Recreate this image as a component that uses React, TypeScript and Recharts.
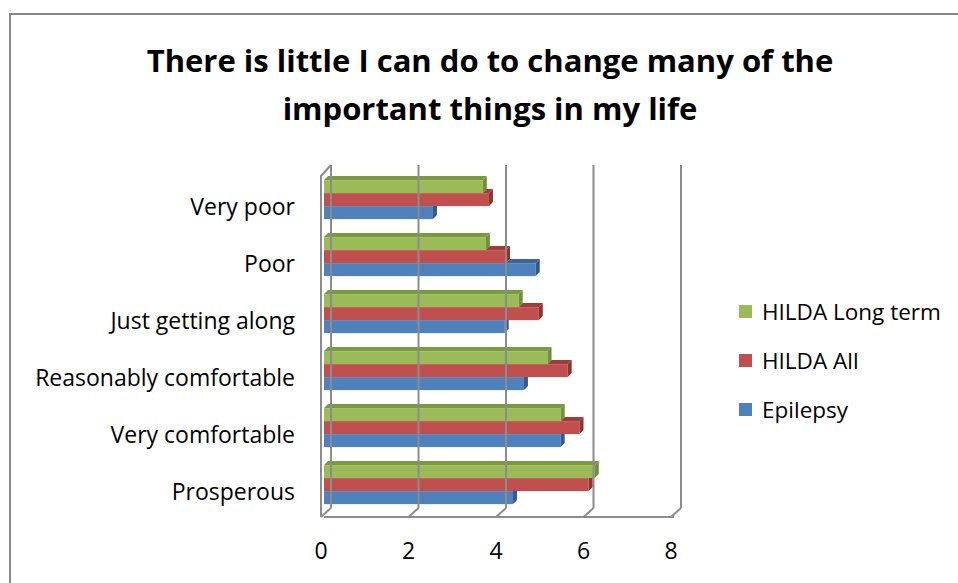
import React from 'react'
import { Bar, BarChart, Legend, XAxis, YAxis } from 'recharts'

// data
const categories = ['Very poor', 'Poor', 'Just getting along', 'Reasonably comfortable', 'Very comfortable', 'Prosperous']
const hildaLongTerm = [3.63, 3.7, 4.45, 5.11, 5.41, 6.19]
const hildaAll = [3.77, 4.16, 4.91, 5.57, 5.84, 6.05]
const epilepsy = [2.49, 4.84, 4.13, 4.57, 5.41, 4.32]
const xTicks = [0, 2, 4, 6, 8]

const data = categories.map((name, i) => ({
    name,
    longTerm: hildaLongTerm[i],
    all: hildaAll[i],
    epilepsy: epilepsy[i],
}))

interface Series {
    key: string
    name: string
    front: string
    top: string
    side: string
    above?: string
}

const SERIES: Series[] = [
    { key: 'longTerm', name: 'HILDA Long term', front: '#9BBB59', top: '#7A9A3E', side: '#71903A' },
    { key: 'all', name: 'HILDA All', front: '#C0504D', top: '#9E3D3A', side: '#8C3532', above: 'longTerm' },
    { key: 'epilepsy', name: 'Epilepsy', front: '#4F81BD', top: '#3C6697', side: '#345A88', above: 'all' },
]

const FONT = '"Open Sans", sans-serif'
const PLOT_TOP = 165
const DEPTH = 4
const WALL = 10
const LEGEND_W = 220

const Bar3D = (props: any) => {
    const { x, y, width: w, height: h, payload, s } = props
    if (!w || w <= 0) return null
    const perUnit = w / payload[s.key]
    const aboveEnd = s.above ? x + payload[s.above] * perUnit : -Infinity
    const right = x + w
    const shapes: React.ReactNode[] = []
    shapes.push(<rect key="f" x={x} y={y} width={w} height={h} fill={s.front} />)
    if (right > aboveEnd) {
        const left = Math.max(x, aboveEnd)
        shapes.push(
            <polygon key="t" fill={s.top}
                points={`${left},${y} ${left + DEPTH},${y - DEPTH} ${right + DEPTH},${y - DEPTH} ${right},${y}`} />
        )
        shapes.push(
            <polygon key="s" fill={s.side}
                points={`${right},${y} ${right + DEPTH},${y - DEPTH} ${right + DEPTH},${y + h - DEPTH} ${right},${y + h}`} />
        )
    } else {
        shapes.push(
            <polygon key="s" fill={s.side}
                points={`${right},${y} ${right + DEPTH},${y} ${right + DEPTH},${y + h - DEPTH} ${right},${y + h}`} />
        )
    }
    return <g>{shapes}</g>
}

// x tick draws the back-wall gridline, the floor diagonal and the label
const XTick = (props: any) => {
    const { x, y, payload, index } = props
    const back = x + WALL - 3
    const front = x - 3
    const stroke = '#8C8C8C'
    return (
        <g>
            <line x1={back} y1={PLOT_TOP} x2={back} y2={y - 9} stroke={stroke} strokeWidth={2} />
            <line x1={front} y1={y} x2={back} y2={y - 9} stroke={stroke} strokeWidth={2} />
            {index === 0 && (
                <polyline fill="none" stroke={stroke} strokeWidth={2}
                    points={`${front},${y} ${front},${PLOT_TOP + 11} ${back},${PLOT_TOP}`} />
            )}
            <text x={front} y={y + 42} textAnchor="middle" fontFamily={FONT} fontSize={23} fill="#000">
                {payload.value}
            </text>
        </g>
    )
}

const YTick = (props: any) => {
    const { x, y, payload } = props
    return (
        <text x={x} y={y} dy={15} textAnchor="end" fontFamily={FONT} fontSize={23} fill="#000">
            {payload.value}
        </text>
    )
}

const LegendContent = () => (
    <div style={{ fontFamily: FONT, fontSize: 22.5, color: '#000' }}>
        {SERIES.map((s) => (
            <div key={s.key} style={{ display: 'flex', alignItems: 'center', height: 49 }}>
                <span style={{ display: 'inline-block', width: 13, height: 13, background: s.front, marginRight: 10 }} />
                {s.name}
            </div>
        ))}
    </div>
)

const App = () => (
    <div style={{ position: 'absolute', left: 0, top: 0, width: 958, height: 583, background: '#fff', overflow: 'hidden' }}>
        <div style={{
            position: 'absolute', left: 9, top: 13, width: 1000, height: 700,
            borderLeft: '2px solid #888', borderTop: '2px solid #888',
        }} />
        <div style={{
            position: 'absolute', left: 14, top: 36, width: 952, textAlign: 'center',
            fontFamily: FONT, fontWeight: 'bold', fontSize: 31, lineHeight: '48px', color: '#000',
        }}>
            There is little I can do to change many of the<br />important things in my life
        </div>
        <div style={{ position: 'absolute', left: 0, top: 0 }}>
            <BarChart
                width={958}
                height={583}
                data={data}
                layout="vertical"
                margin={{ top: PLOT_TOP, right: 284 - LEGEND_W, bottom: 0, left: 0 }}
                barCategoryGap="16%"
                barGap={0}
            >
                <XAxis type="number" domain={[0, 8]} ticks={xTicks} interval={0} height={66}
                    axisLine={{ stroke: '#8C8C8C', strokeWidth: 2 }} tickLine={false} tickSize={0} tickMargin={0}
                    tick={<XTick />} />
                <YAxis type="category" dataKey="name" width={324} axisLine={false} tickLine={false}
                    tickSize={0} tickMargin={29} padding={{ top: 6, bottom: 4 }} tick={<YTick />} interval={0} />
                <Legend layout="vertical" align="right" verticalAlign="top" content={<LegendContent />}
                    wrapperStyle={{ left: 739, top: 287, width: LEGEND_W }} />
                {SERIES.map((s) => (
                    <Bar key={s.key} dataKey={s.key} name={s.name} fill={s.front} isAnimationActive={false}
                        shape={(p: any) => <Bar3D {...p} s={s} />} />
                ))}
            </BarChart>
        </div>
    </div>
)

export default App
